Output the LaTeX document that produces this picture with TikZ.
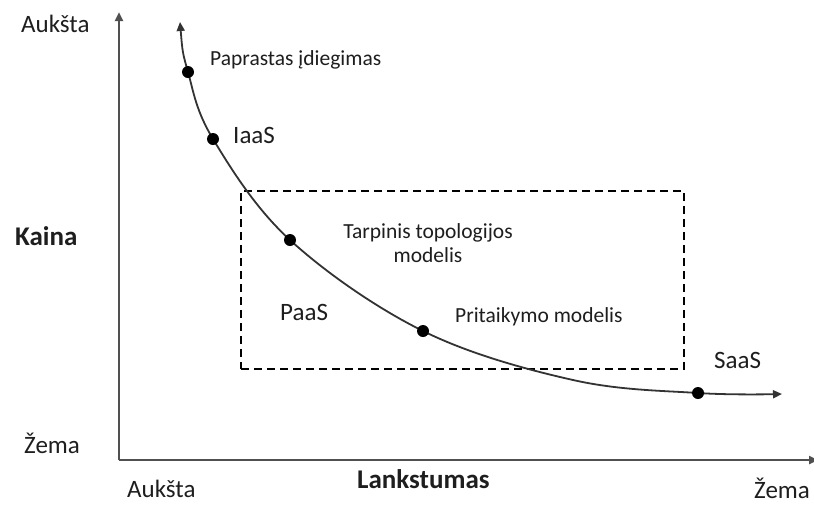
\documentclass[tikz,border=0pt]{standalone}
\usepackage{fontspec}
\setmainfont{Carlito}
\usetikzlibrary{arrows.meta}
\definecolor{ink}{HTML}{1E1E1E}
\definecolor{axisgray}{HTML}{505050}
\definecolor{curvegray}{HTML}{333333}
\tikzset{
  axisline/.style={line width=2.4pt, draw=axisgray, -{Triangle[length=9pt,width=8pt]}},
  costcurve/.style={line width=1.8pt, draw=curvegray,
     {Triangle[length=9pt,width=8pt]}-{Triangle[length=9pt,width=8pt]}},
  zonebox/.style={line width=2pt, draw=black, dash pattern=on 8pt off 5pt},
  pointdot/.style={circle, fill=black, inner sep=0pt, minimum size=12pt},
  lbl/.style={anchor=base west, inner sep=0pt, text=ink, font=\fontsize{25}{30}\selectfont},
  smalllbl/.style={anchor=base west, inner sep=0pt, text=ink, font=\fontsize{21.5}{24}\selectfont},
  boldlbl/.style={anchor=base west, inner sep=0pt, text=ink, font=\fontsize{27}{32}\selectfont\bfseries},
}
\begin{document}
\begin{tikzpicture}[x=1pt,y=-1pt]
\useasboundingbox (0,0) rectangle (814,504);
\fill[white] (0,0) rectangle (814,504);

% axes
\coordinate (origin) at (119,460);
\coordinate (ytop) at (119,12);
\coordinate (xend) at (818,460);
\draw[axisline] (origin) -- (ytop);
\draw[axisline] (origin) -- (xend);

% dashed region
\node[zonebox, draw, minimum width=443pt, minimum height=178pt, inner sep=0pt, anchor=north west] (zone) at (240,190) {};

% curve
\draw[costcurve] plot[smooth, tension=0.6] coordinates {
  (180,22) (188,72) (213,139) (290,240) (423,331) (573,380) (698,393) (782,394)};

% points on the curve
\node[pointdot] (p1) at (188,72) {};
\node[pointdot] (p2) at (213,139) {};
\node[pointdot] (p3) at (290,240) {};
\node[pointdot] (p4) at (423,331) {};
\node[pointdot] (p5) at (698,393) {};

% point labels
\node[smalllbl] (l1) at (210,65) {Paprastas įdiegimas};
\node[lbl] (l2) at (233,143) {IaaS};
\node[smalllbl, anchor=base, align=center] (l3) at (428,262) {Tarpinis topologijos\\modelis};
\node[lbl] (l4) at (280,320) {PaaS};
\node[smalllbl] (l5) at (455,322) {Pritaikymo modelis};
\node[lbl] (l6) at (714,368) {SaaS};

% axis labels
\node[lbl] (yhigh) at (21,32) {Aukšta};
\node[boldlbl] (ytitle) at (15,245) {Kaina};
\node[lbl] (ylow) at (24,453) {Žema};
\node[lbl] (xhigh) at (127,497) {Aukšta};
\node[boldlbl] (xtitle) at (357,488) {Lankstumas};
\node[lbl] (xlow) at (754,498) {Žema};
\end{tikzpicture}
\end{document}
